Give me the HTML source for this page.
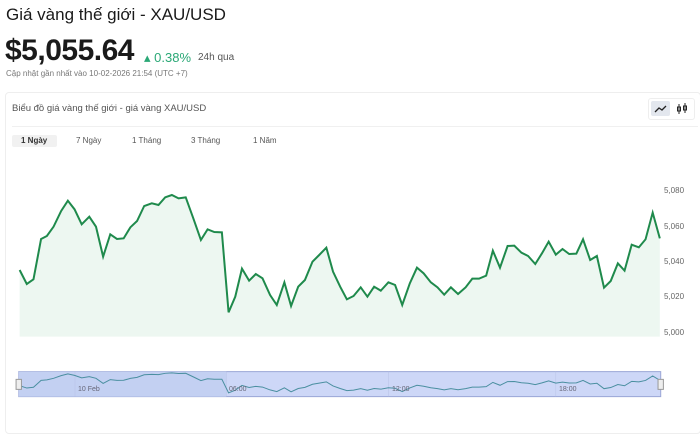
<!DOCTYPE html>
<html><head><meta charset="utf-8"><style>
body{margin:0;width:700px;height:400px;background:#fff;font-family:"Liberation Sans",sans-serif;position:relative;overflow:hidden;color:#222}
.a{position:absolute;white-space:nowrap}
</style></head><body>
<div class="a" style="left:6px;top:5px;font-size:17px;color:#1a1a1a">Giá vàng thế giới - XAU/USD</div>
<div class="a" style="left:5px;top:34px;font-size:30px;font-weight:bold;color:#1a1a1a;letter-spacing:-0.5px">$5,055.64</div>
<div class="a" style="left:144px;top:50px;font-size:13px;color:#2aa876">▴ <b style="font-weight:normal">0.38%</b></div>
<div class="a" style="left:198px;top:52px;font-size:10px;color:#555">24h qua</div>
<div class="a" style="left:6px;top:69px;font-size:8px;color:#777">Cập nhật gần nhất vào 10-02-2026 21:54 (UTC +7)</div>
<div class="a" style="left:5px;top:92px;width:694px;height:340px;border:1px solid #eee;border-radius:4px"></div>
<div class="a" style="left:12px;top:103px;font-size:9.5px;color:#555">Biểu đồ giá vàng thế giới - giá vàng XAU/USD</div>
<div class="a" style="left:648px;top:98px;width:45px;height:20px;border:1px solid #eee;border-radius:3px"></div>
<div class="a" style="left:651px;top:101px;width:19px;height:15px;background:#e3e7ee;border-radius:2px"></div>
<svg class="a" style="left:651px;top:101px" width="42" height="15"><polyline points="4,11 8,7 11,9 15,5" fill="none" stroke="#222" stroke-width="1.3"/><g stroke="#222" fill="none" stroke-width="1"><line x1="28" y1="3" x2="28" y2="13"/><rect x="26.5" y="6" width="3" height="4"/><line x1="34" y1="2" x2="34" y2="12"/><rect x="32.5" y="5" width="3" height="4"/></g></svg>
<div class="a" style="left:12px;top:126px;width:686px;height:1px;background:#f0f0f0"></div>
<div class="a" style="left:12px;top:135px;width:45px;height:12px;background:#f1f1f1;border-radius:2px"></div>
<div class="a" style="left:21px;top:136px;font-size:8px;font-weight:bold;color:#333">1 Ngày</div>
<div class="a" style="left:76px;top:136px;font-size:8px;color:#555">7 Ngày</div>
<div class="a" style="left:132px;top:136px;font-size:8px;color:#555">1 Tháng</div>
<div class="a" style="left:191px;top:136px;font-size:8px;color:#555">3 Tháng</div>
<div class="a" style="left:253px;top:136px;font-size:8px;color:#555">1 Năm</div>
<div class="a" style="left:664px;top:186px;font-size:8px;color:#666">5,080</div>
<div class="a" style="left:664px;top:222px;font-size:8px;color:#666">5,060</div>
<div class="a" style="left:664px;top:257px;font-size:8px;color:#666">5,040</div>
<div class="a" style="left:664px;top:292px;font-size:8px;color:#666">5,020</div>
<div class="a" style="left:664px;top:328px;font-size:8px;color:#666">5,000</div>
<svg class="a" style="left:0;top:170px" width="700" height="230" viewBox="0 0 1568 690" preserveAspectRatio="none">
<polygon fill="#edf7f1" points="44,500 44,300 60,342 75,328 92,207 105,198 120,170 137,123 152,92 167,118 183,163 200,140 215,170 231,260 247,193 262,207 277,205 292,172 307,153 323,108 340,100 355,105 370,82 385,75 400,85 416,82 433,145 450,210 465,178 480,186 497,187 512,427 527,380 542,296 558,332 573,312 588,325 605,375 620,405 637,337 652,408 668,350 683,330 700,275 715,255 731,233 746,305 762,350 777,388 792,378 808,352 823,380 838,350 853,362 870,337 885,345 901,405 918,340 934,293 949,310 965,337 980,352 995,374 1010,352 1026,372 1043,352 1058,326 1073,326 1089,317 1104,242 1120,293 1137,228 1152,227 1168,248 1183,258 1199,282 1214,250 1229,215 1245,254 1260,237 1275,252 1291,251 1306,208 1322,270 1337,258 1353,353 1368,333 1384,280 1399,302 1415,224 1431,232 1446,208 1462,128 1478,205 1478,500"/>
<polyline fill="none" stroke="#1f8a4c" stroke-width="2" vector-effect="non-scaling-stroke" points="44,300 60,342 75,328 92,207 105,198 120,170 137,123 152,92 167,118 183,163 200,140 215,170 231,260 247,193 262,207 277,205 292,172 307,153 323,108 340,100 355,105 370,82 385,75 400,85 416,82 433,145 450,210 465,178 480,186 497,187 512,427 527,380 542,296 558,332 573,312 588,325 605,375 620,405 637,337 652,408 668,350 683,330 700,275 715,255 731,233 746,305 762,350 777,388 792,378 808,352 823,380 838,350 853,362 870,337 885,345 901,405 918,340 934,293 949,310 965,337 980,352 995,374 1010,352 1026,372 1043,352 1058,326 1073,326 1089,317 1104,242 1120,293 1137,228 1152,227 1168,248 1183,258 1199,282 1214,250 1229,215 1245,254 1260,237 1275,252 1291,251 1306,208 1322,270 1337,258 1353,353 1368,333 1384,280 1399,302 1415,224 1431,232 1446,208 1462,128 1478,205"/>
<rect x="42" y="605" width="1438" height="75" fill="#cdd7f7" stroke="#9aa6d6" stroke-width="1" vector-effect="non-scaling-stroke"/>
<rect x="42" y="605" width="465" height="75" fill="#c3d0f2"/>
<g stroke="#b3bde3" stroke-width="1" vector-effect="non-scaling-stroke"><line x1="168" y1="605" x2="168" y2="680"/><line x1="507" y1="605" x2="507" y2="680"/><line x1="870" y1="605" x2="870" y2="680"/><line x1="1245" y1="605" x2="1245" y2="680"/></g>
<polyline fill="none" stroke="#4a8fa0" stroke-width="1" vector-effect="non-scaling-stroke" transform="translate(0,596) scale(1,0.17)" points="44,300 60,342 75,328 92,207 105,198 120,170 137,123 152,92 167,118 183,163 200,140 215,170 231,260 247,193 262,207 277,205 292,172 307,153 323,108 340,100 355,105 370,82 385,75 400,85 416,82 433,145 450,210 465,178 480,186 497,187 512,427 527,380 542,296 558,332 573,312 588,325 605,375 620,405 637,337 652,408 668,350 683,330 700,275 715,255 731,233 746,305 762,350 777,388 792,378 808,352 823,380 838,350 853,362 870,337 885,345 901,405 918,340 934,293 949,310 965,337 980,352 995,374 1010,352 1026,372 1043,352 1058,326 1073,326 1089,317 1104,242 1120,293 1137,228 1152,227 1168,248 1183,258 1199,282 1214,250 1229,215 1245,254 1260,237 1275,252 1291,251 1306,208 1322,270 1337,258 1353,353 1368,333 1384,280 1399,302 1415,224 1431,232 1446,208 1462,128 1478,205"/>
<rect x="36" y="628" width="12" height="30" fill="#eee" stroke="#999" vector-effect="non-scaling-stroke"/>
<rect x="1474" y="628" width="12" height="30" fill="#eee" stroke="#999" vector-effect="non-scaling-stroke"/>
</svg>
<div class="a" style="left:78px;top:386px;font-size:7px;color:#667">10 Feb</div>
<div class="a" style="left:229px;top:386px;font-size:7px;color:#667">06:00</div>
<div class="a" style="left:392px;top:386px;font-size:7px;color:#667">12:00</div>
<div class="a" style="left:559px;top:386px;font-size:7px;color:#667">18:00</div>
</body></html>
